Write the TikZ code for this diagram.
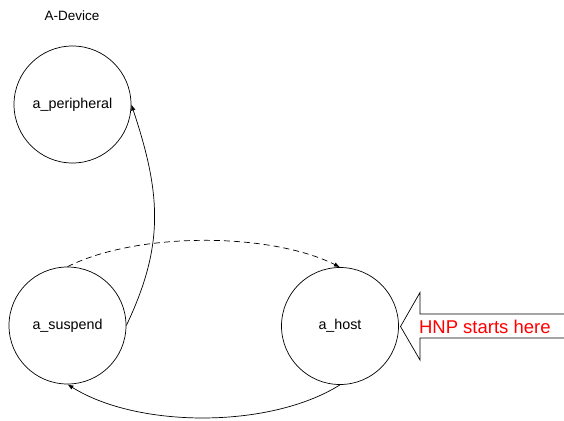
\documentclass[tikz,border=0pt]{standalone}
\usepackage{fontspec}
\setmainfont{Liberation Sans}
\usetikzlibrary{positioning, arrows.meta, calc}

\tikzset{
	state/.style={draw, circle, minimum size=117pt, inner sep=0pt, line width=0.7pt, font=\fontsize{14.3}{16}\selectfont},
	trans/.style={-{Latex[length=6pt,width=4.5pt]}, line width=0.7pt},
	hint/.style={line width=0.7pt}
}

\begin{document}
\begin{tikzpicture}[x=1pt, y=-1pt]
		
		\useasboundingbox (0,0) rectangle (564,420);
		
		%Title
		\node[font=\fontsize{13.5}{16}\selectfont] (title) at (72,16) {A-Device};
		
		%States
		\node[state] (peripheral) at (72.5,104.5) {a\_peripheral};
		\node[state] (suspend) at (67.5,325.5) {a\_suspend};
		\node[state] (host) at (340,326) {a\_host};
		
		%Transitions
		\draw[trans] (suspend.east) .. controls +(38,-80) and +(30,90) .. (peripheral.east);
		\draw[trans, dash pattern=on 6pt off 4pt] (suspend.north) .. controls +(70,-35) and +(-70,-35) .. (host.north);
		\draw[trans] (host.south) .. controls +(-70,44) and +(70,44) .. (suspend.south);
		
		%Entry arrow
		\coordinate (tip) at (400.5,326.5);
		\draw[hint] (564,314) coordinate (shafttop) -- (420,314) -- (420,292.5) -- (tip)
		-- (420,360) -- (420,338) -- (564,338) coordinate (shaftbot);
		\node[text=red, font=\fontsize{18.5}{20}\selectfont, anchor=west] (hnp) at (415.5,327) {HNP starts here};
		
\end{tikzpicture}
\end{document}
